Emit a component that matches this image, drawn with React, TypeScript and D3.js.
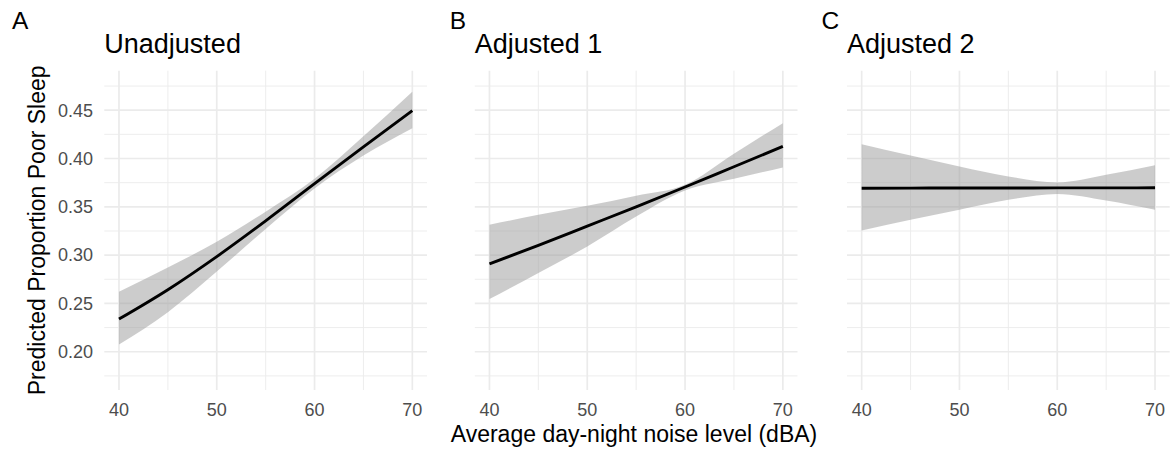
import React from 'react'
import * as d3 from 'd3'

const noiseLevels = [40, 45, 50, 55, 60, 65, 70]

const unadjFit = [0.2338, 0.2642, 0.2985, 0.3355, 0.3740, 0.4120, 0.4495]
const unadjLower = [0.2076, 0.2410, 0.2830, 0.3270, 0.3690, 0.4030, 0.4313]
const unadjUpper = [0.2620, 0.2872, 0.3138, 0.3450, 0.3790, 0.4230, 0.4690]

const adj1Fit = [0.2910, 0.3100, 0.3300, 0.3500, 0.3705, 0.3915, 0.4125]
const adj1Lower = [0.2545, 0.2814, 0.3090, 0.3400, 0.3669, 0.3790, 0.3907]
const adj1Upper = [0.3314, 0.3417, 0.3510, 0.3614, 0.3728, 0.4050, 0.4366]

const adj2Fit = [0.3693, 0.3694, 0.3695, 0.3695, 0.3696, 0.3696, 0.3697]
const adj2Lower = [0.3255, 0.3366, 0.3470, 0.3572, 0.3634, 0.3566, 0.3470]
const adj2Upper = [0.4148, 0.4030, 0.3917, 0.3814, 0.3752, 0.3831, 0.3931]

const panelTitles = ['Unadjusted', 'Adjusted 1', 'Adjusted 2']
const panelTags = ['A', 'B', 'C']

const xTicks = [40, 50, 60, 70]
const xMinor = [45, 55, 65]
const yTicks = [0.2, 0.25, 0.3, 0.35, 0.4, 0.45]
const yMinor = [0.175, 0.225, 0.275, 0.325, 0.375, 0.425, 0.475]

const font = '"Liberation Sans", Arial, Helvetica, sans-serif'

export default function App() {
  const width = 1171
  const height = 450
  const panelW = 322.7
  const top = 70.7
  const bottom = 390
  const lefts = [104.3, 474.8, 847]
  const tagX = [12, 449.7, 821.5]

  const panels = [
    {fit: unadjFit, lo: unadjLower, hi: unadjUpper},
    {fit: adj1Fit, lo: adj1Lower, hi: adj1Upper},
    {fit: adj2Fit, lo: adj2Lower, hi: adj2Upper},
  ]

  const y = d3.scaleLinear().domain([0.1604, 0.4909]).range([bottom, top])

  return (
    <svg width={width} height={height} style={{position: 'absolute', left: 0, top: 0, background: '#fff'}} fontFamily={font}>
      {panels.map((p, i) => {
        const left = lefts[i]
        const x = d3.scaleLinear().domain([38.5, 71.5]).range([left, left + panelW])
        const rows = noiseLevels.map((n, j) => ({n, fit: p.fit[j], lo: p.lo[j], hi: p.hi[j]}))
        const area = d3.area<any>()
          .x(d => x(d.n))
          .y0(d => y(d.lo))
          .y1(d => y(d.hi))
          .curve(d3.curveMonotoneX)
        const line = d3.line<any>()
          .x(d => x(d.n))
          .y(d => y(d.fit))
          .curve(d3.curveMonotoneX)
        return (
          <g key={i}>
            {yMinor.map(t => (
              <line key={'ym' + t} x1={left} x2={left + panelW} y1={y(t)} y2={y(t)} stroke="#EBEBEB" strokeWidth={0.9} />
            ))}
            {xMinor.map(t => (
              <line key={'xm' + t} x1={x(t)} x2={x(t)} y1={top} y2={bottom} stroke="#EBEBEB" strokeWidth={0.9} />
            ))}
            {yTicks.map(t => (
              <line key={'y' + t} x1={left} x2={left + panelW} y1={y(t)} y2={y(t)} stroke="#EBEBEB" strokeWidth={1.7} />
            ))}
            {xTicks.map(t => (
              <line key={'x' + t} x1={x(t)} x2={x(t)} y1={top} y2={bottom} stroke="#EBEBEB" strokeWidth={1.7} />
            ))}
            <path d={area(rows) || ''} fill="#999999" fillOpacity={0.5} />
            <path d={line(rows) || ''} fill="none" stroke="#000" strokeWidth={2.9} />
            {xTicks.map(t => (
              <text key={'xl' + t} x={x(t)} y={416} textAnchor="middle" fontSize={18} fill="#4D4D4D">{t}</text>
            ))}
            {i === 0 && yTicks.map(t => (
              <text key={'yl' + t} x={93} y={y(t)} dy="0.35em" textAnchor="end" fontSize={18} fill="#4D4D4D">{d3.format('.2f')(t)}</text>
            ))}
            <text x={left} y={53.3} fontSize={27} fill="#000">{panelTitles[i]}</text>
            <text x={tagX[i]} y={29.3} fontSize={24.5} fill="#000">{panelTags[i]}</text>
          </g>
        )
      })}
      <text x={634} y={441.7} textAnchor="middle" fontSize={23} fill="#000">Average day-night noise level (dBA)</text>
      <text transform={`translate(45, ${(top + bottom) / 2}) rotate(-90)`} textAnchor="middle" fontSize={23} fill="#000">Predicted Proportion Poor Sleep</text>
    </svg>
  )
}
